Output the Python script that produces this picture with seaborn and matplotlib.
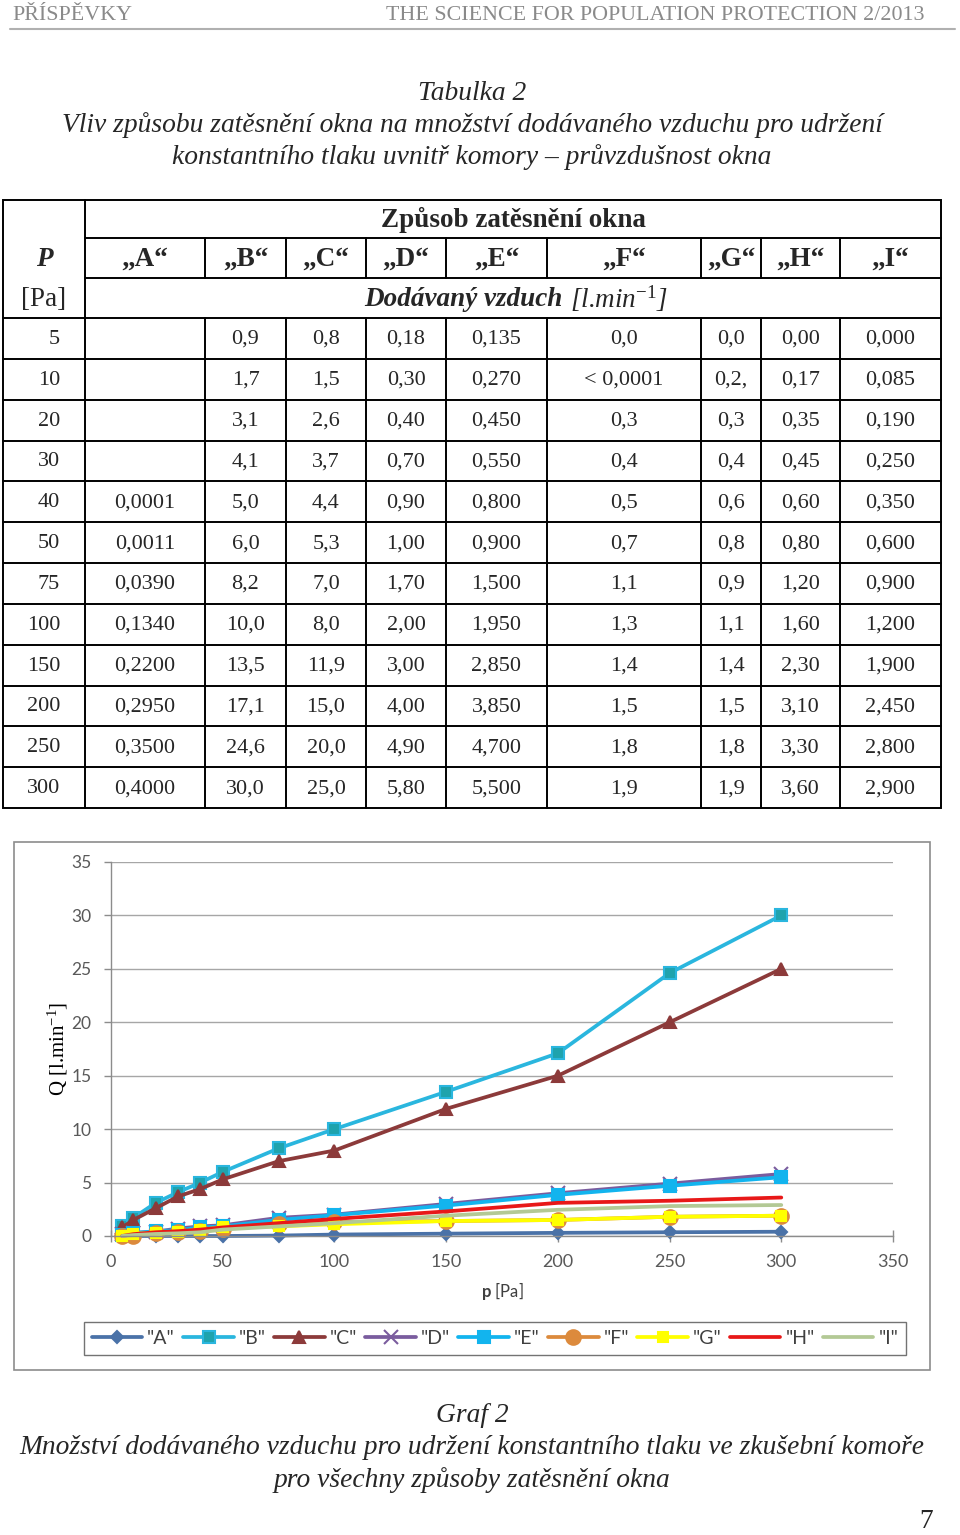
import numpy as np
import pandas as pd
import matplotlib
matplotlib.use("Agg")
import matplotlib.pyplot as plt
import seaborn as sns
from matplotlib.patches import Rectangle

# ---------------- data ----------------
P_txt = ["5", "10", "20", "30", "40", "50", "75", "100", "150", "200", "250", "300"]
A_txt = ["", "", "", "", "0,0001", "0,0011", "0,0390", "0,1340", "0,2200", "0,2950", "0,3500", "0,4000"]
B_txt = ["0,9", "1,7", "3,1", "4,1", "5,0", "6,0", "8,2", "10,0", "13,5", "17,1", "24,6", "30,0"]
C_txt = ["0,8", "1,5", "2,6", "3,7", "4,4", "5,3", "7,0", "8,0", "11,9", "15,0", "20,0", "25,0"]
D_txt = ["0,18", "0,30", "0,40", "0,70", "0,90", "1,00", "1,70", "2,00", "3,00", "4,00", "4,90", "5,80"]
E_txt = ["0,135", "0,270", "0,450", "0,550", "0,800", "0,900", "1,500", "1,950", "2,850", "3,850", "4,700", "5,500"]
F_txt = ["0,0", "< 0,0001", "0,3", "0,4", "0,5", "0,7", "1,1", "1,3", "1,4", "1,5", "1,8", "1,9"]
G_txt = ["0,0", "0,2,", "0,3", "0,4", "0,6", "0,8", "0,9", "1,1", "1,4", "1,5", "1,8", "1,9"]
H_txt = ["0,00", "0,17", "0,35", "0,45", "0,60", "0,80", "1,20", "1,60", "2,30", "3,10", "3,30", "3,60"]
I_txt = ["0,000", "0,085", "0,190", "0,250", "0,350", "0,600", "0,900", "1,200", "1,900", "2,450", "2,800", "2,900"]

series_names = ["A", "B", "C", "D", "E", "F", "G", "H", "I"]
series_txt = [A_txt, B_txt, C_txt, D_txt, E_txt, F_txt, G_txt, H_txt, I_txt]

x_ticks = [0, 50, 100, 150, 200, 250, 300, 350]
y_ticks = [0, 5, 10, 15, 20, 25, 30, 35]


def val(s):
    s = s.replace("<", "").strip().rstrip(",").replace(",", ".")
    return float(s) if s else 0.0


P = [float(p) for p in P_txt]

# ---------------- style ----------------
sns.set_theme(style="white")
SERIF = ['Liberation Serif', 'DejaVu Serif']
plt.rcParams['font.family'] = SERIF
plt.rcParams['mathtext.fontset'] = 'custom'
plt.rcParams['mathtext.rm'] = 'Liberation Serif'
plt.rcParams['mathtext.it'] = 'Liberation Serif:italic'
plt.rcParams['mathtext.bf'] = 'Lato:bold'

fig = plt.figure(figsize=(9.6, 15.35), dpi=100)
fig.patch.set_facecolor('white')
page = fig.add_axes([0, 0, 1, 1])
page.set_xlim(0, 960)
page.set_ylim(1535, 0)
page.axis('off')

# header
page.text(12, 15, "PŘÍSPĚVKY", fontsize=15.8, color='#8a8a8a', ha='left', va='center',
          family=SERIF)
page.text(925, 15, "THE SCIENCE FOR POPULATION PROTECTION 2/2013", fontsize=15.8,
          color='#8a8a8a', ha='right', va='center', family=SERIF)
page.plot([10, 955], [29, 29], color='#b0b0b0', lw=1.5)

# title
CX = 472
FT = 19.8
page.text(CX, 93, "Tabulka 2", fontsize=FT, style='italic', ha='center', va='center', family=SERIF)
page.text(CX, 125, "Vliv způsobu zatěsnění okna na množství dodávaného vzduchu pro udržení",
          fontsize=FT, style='italic', ha='center', va='center', family=SERIF)
page.text(CX, 157, "konstantního tlaku uvnitř komory – průvzdušnost okna",
          fontsize=FT, style='italic', ha='center', va='center', family=SERIF)

# ---------------- table ----------------
cb = [3, 85, 205, 286, 366, 446, 547, 701, 761, 840, 941]
top = 200
hr = [200, 238, 278, 318]
rh = (808 - 318) / 12.0
rows_y = [318 + i * rh for i in range(13)]
lw_t = 1.4
page.add_patch(Rectangle((cb[0], top), cb[-1] - cb[0], rows_y[-1] - top, fill=False,
                         ec='black', lw=lw_t))
page.plot([cb[1], cb[-1]], [hr[1], hr[1]], color='black', lw=lw_t)
page.plot([cb[1], cb[-1]], [hr[2], hr[2]], color='black', lw=lw_t)
for y in rows_y[:-1]:
    page.plot([cb[0], cb[-1]], [y, y], color='black', lw=lw_t)
page.plot([cb[1], cb[1]], [top, rows_y[-1]], color='black', lw=lw_t)
for x in cb[2:-1]:
    page.plot([x, x], [hr[1], hr[2]], color='black', lw=lw_t)
    page.plot([x, x], [hr[3], rows_y[-1]], color='black', lw=lw_t)

fs_t = 16
FH = 19.5
page.text((cb[1] + cb[-1]) / 2, (hr[0] + hr[1]) / 2 + 1, "Způsob zatěsnění okna",
          fontsize=FH, weight='bold', ha='center', va='center', family=SERIF)
page.text(44, (hr[1] + hr[2]) / 2 + 1, "P", fontsize=FH, weight='bold', style='italic',
          ha='center', va='center', family=SERIF)
page.text(44, (hr[2] + hr[3]) / 2 + 1, "[Pa]", fontsize=FH, ha='center', va='center', family=SERIF)
for i, name in enumerate(series_names):
    page.text((cb[i + 1] + cb[i + 2]) / 2, (hr[1] + hr[2]) / 2 + 1, "„" + name + "“",
              fontsize=FH, weight='bold', ha='center', va='center', family=SERIF)
page.text(563, (hr[2] + hr[3]) / 2 + 1, "Dodávaný vzduch", fontsize=FH, weight='bold',
          style='italic', ha='right', va='center', family=SERIF)
page.text(570, (hr[2] + hr[3]) / 2 + 1, r"[l.min$^{\mathit{-1}}$]", fontsize=FH, style='italic',
          ha='left', va='center', family=SERIF)

for r in range(12):
    yc = (rows_y[r] + rows_y[r + 1]) / 2 + 1
    page.text(60, yc, P_txt[r], fontsize=fs_t, ha='right', va='center', family=SERIF)
    for i, col in enumerate(series_txt):
        page.text((cb[i + 1] + cb[i + 2]) / 2, yc, col[r], fontsize=fs_t,
                  ha='center', va='center', family=SERIF)

# ---------------- chart ----------------
page.add_patch(Rectangle((14, 842), 916, 528, fill=False, ec='#8c8c8c', lw=1.2))

ax = fig.add_axes([111 / 960, 1 - 1236 / 1535, 782 / 960, 374 / 1535])
ax.set_facecolor('none')

styles = {
    "A": dict(color='#4a72a8', marker='D', ms=6.5, mfc='#4a72a8', mec='#4a72a8'),
    "B": dict(color='#2ab6de', marker='s', ms=8, mfc='#1fa3ad', mec='#2ab6de'),
    "C": dict(color='#8c3a3a', marker='^', ms=8.5, mfc='#8c3a3a', mec='#8c3a3a'),
    "D": dict(color='#7a5c9e', marker='x', ms=10, mfc='#7a5c9e', mec='#7a5c9e'),
    "E": dict(color='#12b4ee', marker='s', ms=8, mfc='#12b4ee', mec='#12b4ee'),
    "F": dict(color='#dc8a3c', marker='o', ms=10.5, mfc='#dc8a3c', mec='#dc8a3c'),
    "G": dict(color='#ffff00', marker='s', ms=7, mfc='#ffff00', mec='#ffff00'),
    "H": dict(color='#e81818', marker=None, ms=0, mfc='#e81818', mec='#e81818'),
    "I": dict(color='#b3c995', marker=None, ms=0, mfc='#b3c995', mec='#b3c995'),
}

for name, col in zip(series_names, series_txt):
    st = styles[name]
    vals = [val(s) for s in col]
    kw = dict(color=st['color'], linewidth=2.7, label='"%s"' % name, clip_on=False)
    if st['marker'] is not None:
        kw.update(marker=st['marker'], markersize=st['ms'], markerfacecolor=st['mfc'],
                  markeredgecolor=st['mec'], markeredgewidth=1.5)
    sns.lineplot(x=P, y=vals, ax=ax, **kw)

ax.set_xlim(0, 350)
ax.set_ylim(0, 35)
ax.set_xticks(x_ticks)
ax.set_yticks(y_ticks)
ax.yaxis.grid(True, color='#a6a6a6', lw=1)
ax.xaxis.grid(False)
ax.set_axisbelow(True)
for s in ['top', 'right']:
    ax.spines[s].set_visible(False)
for s in ['left', 'bottom']:
    ax.spines[s].set_color('#8c8c8c')
    ax.spines[s].set_linewidth(1)
ax.tick_params(axis='y', direction='out', length=5, width=1, color='#8c8c8c', pad=9,
               labelsize=12.5, labelcolor='#595959', left=True)
ax.tick_params(axis='x', direction='inout', length=8, width=1, color='#8c8c8c', pad=9,
               labelsize=13, labelcolor='#595959', bottom=True)
for lab in ax.get_xticklabels() + ax.get_yticklabels():
    lab.set_fontfamily('Lato')

ax.set_xlabel(r"$\mathbf{p}$ [Pa]", fontsize=12, family='Lato', color='#404040')
ax.xaxis.set_label_coords(0.5, -0.118)
ax.set_ylabel(r"Q [l.min$^{-1}$]", fontsize=15, family=SERIF, color='black')
ax.yaxis.set_label_coords(-0.053, 0.5)

handles, labels = ax.get_legend_handles_labels()
if ax.get_legend() is not None:
    ax.get_legend().remove()
leg = fig.legend(handles, labels, ncol=9, loc='center', mode='expand',
                 bbox_to_anchor=(84 / 960, 1 - 1355 / 1535, 822 / 960, 33 / 1535),
                 frameon=True, fancybox=False, edgecolor='#505050', handlelength=2.6,
                 handletextpad=0.25, columnspacing=0.5, borderaxespad=0.0,
                 numpoints=1, prop={'family': 'Lato', 'size': 14})
leg.get_frame().set_linewidth(1.0)
for t in leg.get_texts():
    t.set_color('#404040')

# caption
page.text(CX, 1416, "Graf 2", fontsize=FT, style='italic', ha='center', va='center', family=SERIF)
page.text(CX, 1448, "Množství dodávaného vzduchu pro udržení konstantního tlaku ve zkušební komoře",
          fontsize=FT, style='italic', ha='center', va='center', family=SERIF)
page.text(CX, 1480, "pro všechny způsoby zatěsnění okna", fontsize=FT, style='italic',
          ha='center', va='center', family=SERIF)
page.text(926, 1521, "7", fontsize=FT, ha='center', va='center', family=SERIF)

fig.savefig("out.png", dpi=100, facecolor='white')
